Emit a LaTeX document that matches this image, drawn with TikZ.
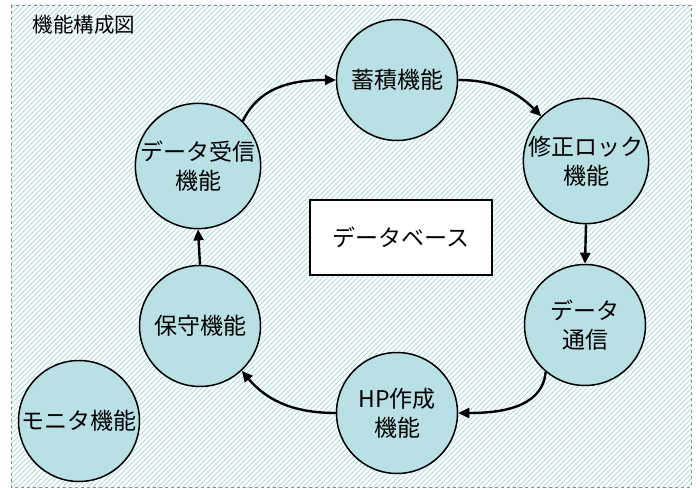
\documentclass[tikz,border=0pt]{standalone}
\usepackage{fontspec}
\setmainfont{Noto Sans CJK JP}
\usetikzlibrary{arrows.meta}
\definecolor{hatch}{HTML}{AEDBDE}
\definecolor{circfill}{HTML}{B9E0E4}
\definecolor{frame}{HTML}{8C8C8C}
\tikzset{
  func/.style={circle, draw=black, line width=1.5pt, fill=circfill, minimum size=121pt, inner sep=0pt, align=center, font=\fontsize{23}{29}\selectfont},
  flow/.style={line width=2.4pt, -{Triangle[length=11pt,width=10pt]}},
  dbbox/.style={draw=black, line width=1.3pt, fill=white, minimum width=182pt, minimum height=75pt, font=\fontsize{23}{27}\selectfont},
  titletext/.style={font=\fontsize{20.5}{24}\selectfont, anchor=west}
}
\begin{document}
\begin{tikzpicture}[x=1pt,y=-1pt]
\useasboundingbox (0,0) rectangle (700,489);
\begin{scope}
  \clip (11,5) rectangle (691,487);
  \foreach \i in {-500,-495,...,700} {
    \draw[hatch, line width=0.95pt] (\i,495) -- (\i+500,-5);
  }
\end{scope}
\draw[frame, dashed, line width=0.8pt] (11,5) rectangle (691,487);
\node[titletext] (title) at (29,25) {機能構成図};
\node[func] (stor) at (397,80) {蓄積機能};
\node[func] (lock) at (586,161) {修正ロック\\機能};
\node[func] (comm) at (585,325) {データ\\通信};
\node[func] (hp) at (397,413) {HP作成\\機能};
\node[func] (hosh) at (200,326) {保守機能};
\node[func] (recv) at (198,166) {データ受信\\機能};
\node[func] (mon) at (79,421) {モニタ機能};
\node[dbbox] (db) at (401,237.5) {データベース};
\draw[flow] (recv.45) to[out=65,in=180] (stor.west);
\draw[flow] (stor.east) to[out=0,in=135] (lock.135);
\draw[flow] (lock.south) -- (comm.north);
\draw[flow] (comm.230) to[out=265,in=0] (hp.east);
\draw[flow] (hp.west) to[out=180,in=310] (hosh.313);
\draw[flow] (hosh.north) -- (recv.south);
\end{tikzpicture}
\end{document}
